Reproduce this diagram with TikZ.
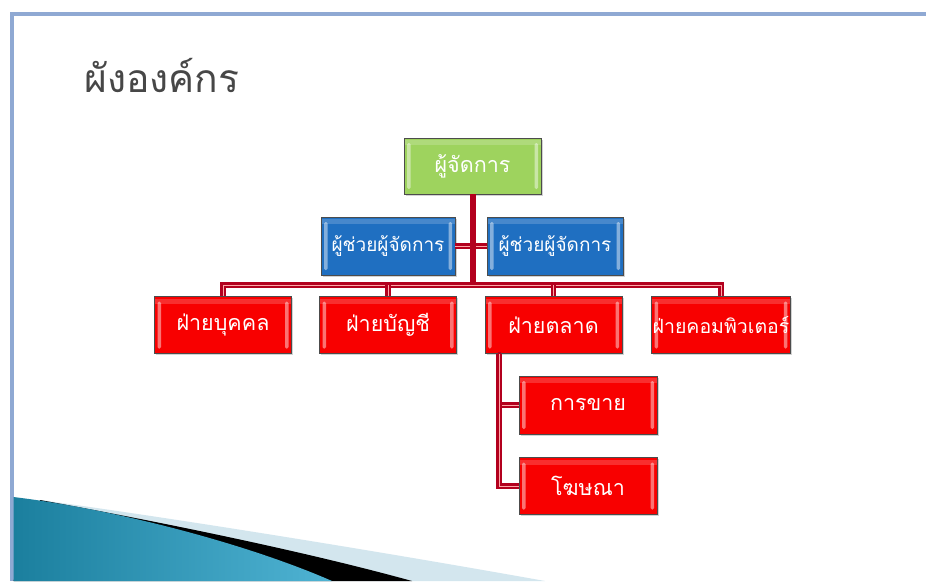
\documentclass[tikz,border=0pt]{standalone}
\usepackage{fontspec}
\newfontfamily\thaifont[Script=Thai]{Loma}
\usetikzlibrary{shadows}
\definecolor{frameblue}{HTML}{8FA9D3}
\definecolor{boxred}{HTML}{F80000}
\definecolor{boxgreen}{HTML}{9ED35E}
\definecolor{boxblue}{HTML}{1F6FC1}
\definecolor{linered}{HTML}{B3001E}
\definecolor{teal1}{HTML}{1B7F9E}
\definecolor{teal2}{HTML}{4FB3D3}
\definecolor{lightband}{HTML}{D3E6EE}
\tikzset{
  orgbox/.style={draw=black!70, line width=0.6pt, minimum width=137pt, minimum height=57pt,
    inner sep=1pt, text=white, font=\thaifont\fontsize{21.5}{24}\selectfont,
    drop shadow={shadow xshift=1.5pt, shadow yshift=-1.5pt, opacity=0.35},
    path picture={
      \fill[white,opacity=0.45,rounded corners=1.5pt]
        ([xshift=3pt,yshift=-5pt]path picture bounding box.north west) rectangle
        ([xshift=6.5pt,yshift=5pt]path picture bounding box.south west);
      \fill[white,opacity=0.45,rounded corners=1.5pt]
        ([xshift=-3pt,yshift=-5pt]path picture bounding box.north east) rectangle
        ([xshift=-6.5pt,yshift=5pt]path picture bounding box.south east);
      \fill[white,opacity=0.18]
        ([yshift=-2pt]path picture bounding box.north west) rectangle
        ([yshift=-7pt]path picture bounding box.north east);
    }},
  redbox/.style={orgbox, fill=boxred},
  greenbox/.style={orgbox, fill=boxgreen},
  bluebox/.style={orgbox, fill=boxblue, font=\thaifont\fontsize{19}{22}\selectfont},
  conn/.style={draw=linered, line width=2.2pt, double=red!35, double distance=0.8pt},
  trunk/.style={draw=linered, line width=6pt},
}
\begin{document}
\begin{tikzpicture}[x=1pt,y=-1pt]
\useasboundingbox (0,0) rectangle (926,581);
\fill[white] (0,0) rectangle (926,581);
% frame
\fill[frameblue] (10,12) rectangle (926,15.5);
\fill[frameblue] (10,12) rectangle (13.5,581);
% bottom-left decoration
\fill[lightband] (40,500) .. controls (200,522) and (400,555) .. (545,581) -- (13.5,581) -- cycle;
\fill[black] (40,500) .. controls (150,520) and (300,550) .. (412,581) -- (13.5,581) -- cycle;
\shade[left color=teal1, right color=teal2] (13.5,497) .. controls (120,510) and (250,545) .. (332,581) -- (13.5,581) -- cycle;
% title
\node[anchor=base west, text=black!72, font=\thaifont\fontsize{39}{44}\selectfont, inner sep=0pt] (title) at (84,92) {ผังองค์กร};
% nodes
\node[greenbox, minimum width=137pt, minimum height=56pt] (mgr) at (472.5,166) {ผู้จัดการ};
\node[bluebox, minimum width=134pt, minimum height=58pt] (a1) at (388,246) {ผู้ช่วยผู้จัดการ};
\node[bluebox, minimum width=136pt, minimum height=58pt] (a2) at (555,246) {ผู้ช่วยผู้จัดการ};
\coordinate (j) at (472.5,285);
% connectors drawn before row boxes
\draw[conn] (223,300) -- (223,285) -- (721,285) -- (721,300);
\draw[conn] (388,300) -- (388,285);
\draw[conn] (553.5,300) -- (553.5,285);
\draw[conn] (a1.east) -- (a2.west);
\draw[trunk] (mgr.south) -- (j);
\node[redbox] (d1) at (223,325) {ฝ่ายบุคคล};
\node[redbox] (d2) at (388,325) {ฝ่ายบัญชี};
\node[redbox] (d3) at (553.5,325) {ฝ่ายตลาด};
\node[redbox, minimum width=138pt, font=\thaifont\fontsize{19.5}{22}\selectfont] (d4) at (721,325) {ฝ่ายคอมพิวเตอร์};
\coordinate (m) at (499,354);
\node[redbox, minimum width=138pt, minimum height=58pt] (s1) at (588,405) {การขาย};
\node[redbox, minimum width=138pt, minimum height=57pt] (s2) at (588,486) {โฆษณา};
\draw[conn] (m) |- (s1.west);
\draw[conn] (m) |- (s2.west);
\draw[trunk, line width=3pt] (m) -- ([yshift=2pt]d3.south -| m);
\end{tikzpicture}
\end{document}
